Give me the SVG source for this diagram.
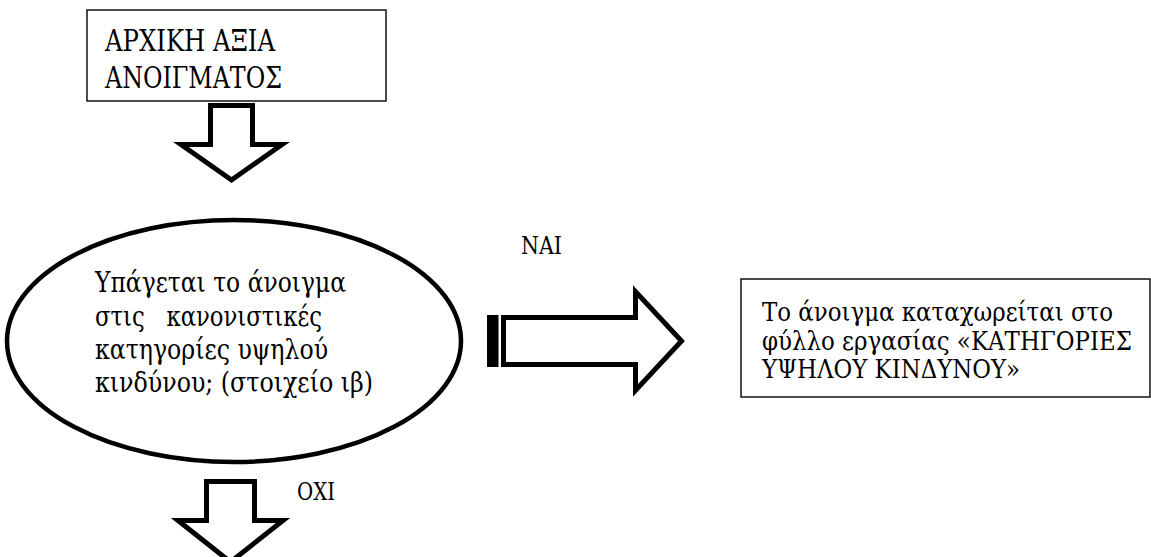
<svg xmlns="http://www.w3.org/2000/svg" width="1151" height="557" viewBox="0 0 1151 557">
<style>
.box{fill:#fff;stroke:#000;stroke-width:1.4}
.arrow{fill:#fff;stroke:#000;stroke-width:5;stroke-linejoin:miter;stroke-miterlimit:10}
.t{font-family:"DejaVu Serif Condensed","DejaVu Serif","Liberation Serif",serif;font-stretch:condensed;fill:#000}
.big{font-size:30px}
.mid{font-size:27.5px}
.sm{font-size:26px}
.lab{font-size:24px}
</style>
<rect width="1151" height="557" fill="#fff"/>
<g id="start">
<rect class="box" x="87" y="10" width="299" height="91"/>
<text class="t big" x="105" y="51" textLength="170" lengthAdjust="spacingAndGlyphs">ΑΡΧΙΚΗ ΑΞΙΑ</text>
<text class="t big" x="105" y="88" textLength="177" lengthAdjust="spacingAndGlyphs">ΑΝΟΙΓΜΑΤΟΣ</text>
</g>
<g id="decision">
<ellipse cx="234" cy="341" rx="227" ry="121" fill="#fff" stroke="#000" stroke-width="4.5"/>
<text class="t mid" x="95" y="292" textLength="251" lengthAdjust="spacingAndGlyphs">Υπάγεται το άνοιγμα</text>
<text class="t mid" x="95" y="326" textLength="227" lengthAdjust="spacingAndGlyphs" xml:space="preserve">στις   κανονιστικές</text>
<text class="t mid" x="95" y="359" textLength="233" lengthAdjust="spacingAndGlyphs">κατηγορίες υψηλού</text>
<text class="t mid" x="95" y="392" textLength="278" lengthAdjust="spacingAndGlyphs">κινδύνου; (στοιχείο ιβ)</text>
</g>
<g id="result">
<rect class="box" x="741" y="279" width="409" height="118"/>
<text class="t sm" x="762" y="321" textLength="351" lengthAdjust="spacingAndGlyphs">Το άνοιγμα καταχωρείται στο</text>
<text class="t sm" x="762" y="350" textLength="370" lengthAdjust="spacingAndGlyphs">φύλλο εργασίας «ΚΑΤΗΓΟΡΙΕΣ</text>
<text class="t sm" x="762" y="378" textLength="258" lengthAdjust="spacingAndGlyphs">ΥΨΗΛΟΥ ΚΙΝΔΥΝΟΥ»</text>
</g>
<g id="connectors">
<polygon class="arrow" points="210.5,105.5 252.5,105.5 252.5,144.5 282,144.5 231.5,180 181,144.5 210.5,144.5"/>
<polygon class="arrow" points="503.5,317.5 635.5,317.5 635.5,291.5 681.5,341 635.5,390.5 635.5,364.5 503.5,364.5"/>
<rect x="487" y="315" width="11.5" height="52" fill="#000"/>
<polygon class="arrow" points="206.5,481.5 254.5,481.5 254.5,520.5 283,520.5 230.5,562 178,520.5 206.5,520.5"/>
<text class="t lab" x="521" y="254" textLength="41" lengthAdjust="spacingAndGlyphs">ΝΑΙ</text>
<text class="t lab" x="297" y="500" textLength="38" lengthAdjust="spacingAndGlyphs">ΟΧΙ</text>
</g>
</svg>
